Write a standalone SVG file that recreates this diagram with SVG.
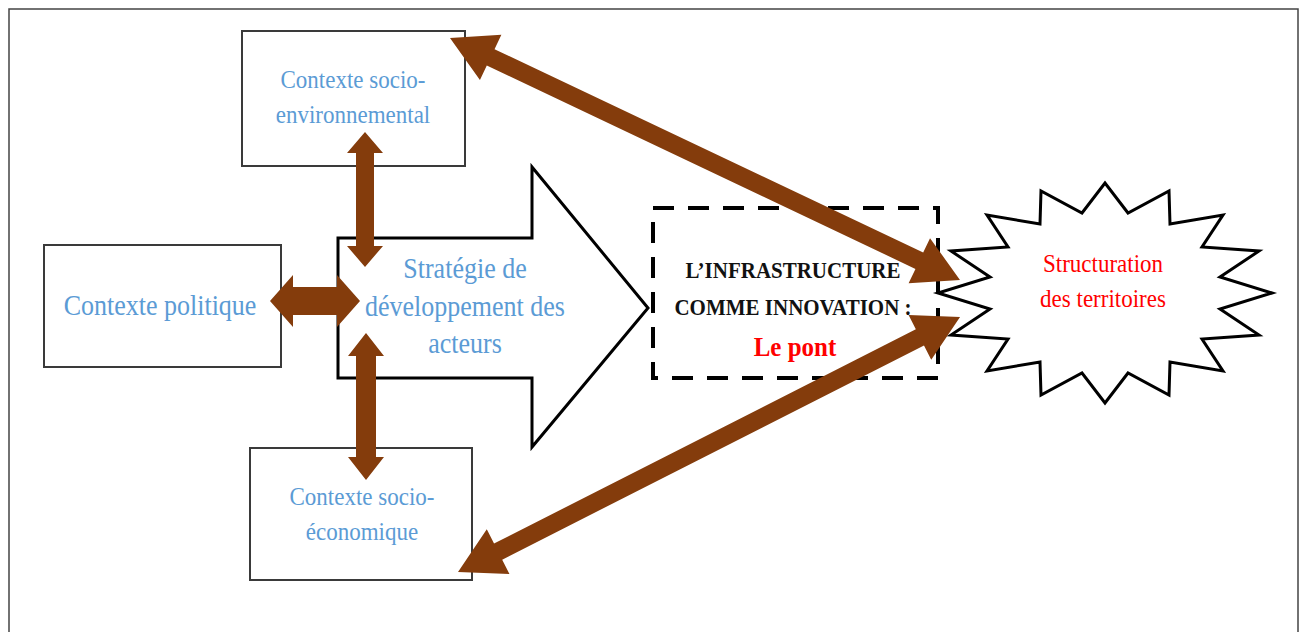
<svg xmlns="http://www.w3.org/2000/svg" width="1302" height="632" viewBox="0 0 1302 632">
<style>
.box{fill:#fff;stroke:#3a3a3a;stroke-width:2}
.blue{font-family:"Liberation Serif","Times New Roman",serif;fill:#5b9bd5;text-anchor:middle}
.blk{font-family:"Liberation Serif","Times New Roman",serif;fill:#111;font-weight:bold;text-anchor:middle}
.red{font-family:"Liberation Serif","Times New Roman",serif;fill:#ff0000;text-anchor:middle}
.br{fill:#843c0c}
</style>
<rect x="0" y="0" width="1302" height="632" fill="#fff"/>
<path d="M9,632 V9 H1298 V632" fill="none" stroke="#444" stroke-width="1.5"/>

<g id="strategie">
<polygon points="338,238 532,238 532,167 648,308 532,447 532,378 338,378" fill="#fff" stroke="#000" stroke-width="3" stroke-linejoin="miter"/>
<text class="blue" font-size="26" transform="translate(465,278) scale(1,1.13)">Stratégie de</text>
<text class="blue" font-size="26" transform="translate(465,316) scale(1,1.13)">développement des</text>
<text class="blue" font-size="26" transform="translate(465,353) scale(1,1.13)">acteurs</text>
</g>

<g id="socio-env">
<rect class="box" x="242" y="31" width="223" height="135"/>
<text class="blue" font-size="23" transform="translate(353,88) scale(1,1.13)">Contexte socio-</text>
<text class="blue" font-size="23" transform="translate(353,123) scale(1,1.13)">environnemental</text>
</g>

<g id="politique">
<rect class="box" x="44" y="245" width="237" height="122"/>
<text class="blue" font-size="26" transform="translate(160,315) scale(1,1.13)">Contexte politique</text>
</g>

<g id="socio-eco">
<rect class="box" x="250" y="448" width="222" height="132"/>
<text class="blue" font-size="23" transform="translate(362,505) scale(1,1.13)">Contexte socio-</text>
<text class="blue" font-size="23" transform="translate(362,540) scale(1,1.13)">économique</text>
</g>

<g id="infrastructure">
<rect x="653" y="208" width="285" height="170" fill="#fff" stroke="#000" stroke-width="4" stroke-dasharray="21 14"/>
<text class="blk" font-size="21" transform="translate(793,278) scale(1,1.1)">L’INFRASTRUCTURE</text>
<text class="blk" font-size="21" transform="translate(793,315) scale(1,1.1)">COMME INNOVATION :</text>
<text class="red" font-size="25" font-weight="bold" transform="translate(795,356) scale(1,1.13)">Le pont</text>
</g>

<g id="structuration">
<polygon fill="#fff" stroke="#000" stroke-width="3" stroke-linejoin="miter" points="1272,293 1220,277 1259,251 1202,247 1223,215 1170,224 1169,191 1128,213 1105,183 1082,213 1041,191 1040,224 987,215 1008,247 951,251 990,277 938,293 990,309 951,335 1008,339 987,371 1040,362 1041,395 1082,373 1105,403 1128,373 1169,395 1170,362 1223,371 1202,339 1259,335 1220,309"/>
<text class="red" font-size="23" transform="translate(1103,272) scale(1,1.13)">Structuration</text>
<text class="red" font-size="23" transform="translate(1103,307) scale(1,1.13)">des territoires</text>
</g>

<g id="connectors">
<polygon class="br" points="365,132 383,153 374,153 374,246 383,246 365,267 347,246 356,246 356,153 347,153"/>
<polygon class="br" points="270,301 293,275 293,287 337,287 337,275 360,301 337,327 337,315 293,315 293,327"/>
<polygon class="br" points="366,333 384,356 376,356 376,457 384,457 366,480 348,457 356,457 356,356 348,356"/>
<g transform="translate(450,38) rotate(25.39)">
<polygon class="br" points="0,0 45,-25 45,-9 519.5,-9 519.5,-25 564.5,0 519.5,25 519.5,9 45,9 45,25"/>
</g>
<g transform="translate(458,572) rotate(-26.93)">
<polygon class="br" points="0,0 45,-25 45,-9 518.1,-9 518.1,-25 563.1,0 518.1,25 518.1,9 45,9 45,25"/>
</g>
</g>
</svg>
